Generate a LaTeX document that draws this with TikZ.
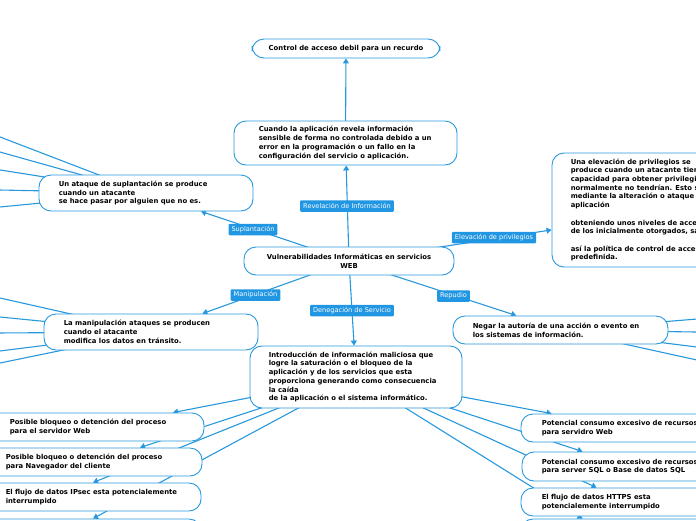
\documentclass[tikz,border=0pt]{standalone}
\usepackage{fontspec}
\setmainfont{DejaVu Sans}
\usetikzlibrary{arrows.meta,backgrounds}
\definecolor{mmblue}{RGB}{40,152,222}
\definecolor{lblblue}{RGB}{33,150,226}
\begin{document}
\begin{tikzpicture}[x=1pt,y=-1pt,
  box/.style={draw=mmblue, line width=0.9pt, fill=white, rounded corners=12pt, inner sep=0pt},
  txt/.style={font=\fontsize{6.85}{8.7}\selectfont\bfseries, align=left, inner sep=0pt, anchor=west},
  ctxt/.style={font=\fontsize{6.85}{8.7}\selectfont\bfseries, align=center},
  lbl/.style={fill=lblblue, rounded corners=1pt, text=white, font=\fontsize{6.6}{7}\selectfont, inner xsep=3pt, inner ysep=0pt, minimum height=11.5pt},
  conn/.style={draw=mmblue, line width=1.1pt, -{Triangle[width=6pt,length=5pt]}}]
\useasboundingbox (0,0) rectangle (696,520);
\clip (0,0) rectangle (696,520);
% ---- boxes ----
\node[box, ctxt, minimum width=188pt, minimum height=19pt] (ctrl) at (346,48.5) {Control de acceso debil para un recurdo};
\node[box, minimum width=223pt, minimum height=44pt] (rev) at (345.5,143) {};
\node[txt] (rev-t) at ([xshift=25pt]rev.west) {Cuando la aplicación revela información\\sensible de forma no controlada debido a un\\error en la programación o un fallo en la\\configuración del servicio o aplicación.};
\node[box, ctxt, minimum width=210pt, minimum height=28pt] (central) at (349,261) {Vulnerabilidades Informáticas en servicios\\WEB};
\node[box, minimum width=214pt, minimum height=36pt] (sup) at (146,193) {};
\node[txt] (sup-t) at ([xshift=20pt]sup.west) {Un ataque de suplantación se produce\\cuando un atacante\\se hace pasar por alguien que no es.};
\node[box, minimum width=260pt, minimum height=114pt] (elev) at (682,210) {};
\node[txt] (elev-t) at ([xshift=19pt]elev.west) {Una elevación de privilegios se\\produce cuando un atacante tiene la\\capacidad para obtener privilegios que\\normalmente no tendrían. Esto se consigue\\mediante la alteración o ataque de la\\aplicación\\[8.7pt]obteniendo unos niveles de acceso superiores\\de los inicialmente otorgados, saltándose\\[8.7pt]así la política de control de acceso\\predefinida.};
\node[box, minimum width=214pt, minimum height=36pt] (manip) at (151,332) {};
\node[txt] (manip-t) at ([xshift=20pt]manip.west) {La manipulación ataques se producen\\cuando el atacante\\modifica los datos en tránsito.};
\node[box, minimum width=215pt, minimum height=28pt] (rep) at (560.5,330) {};
\node[txt] (rep-t) at ([xshift=20pt]rep.west) {Negar la autoría de una acción o evento en\\los sistemas de información.};
\node[box, minimum width=212pt, minimum height=62pt] (den) at (356,377) {};
\node[txt] (den-t) at ([xshift=19pt]den.west) {Introducción de información maliciosa que\\logre la saturación o el bloqueo de la\\aplicación y de los servicios que esta\\proporciona generando como consecuencia\\la caída\\de la aplicación o el sistema informático.};
\node[box, minimum width=224pt, minimum height=28pt] (bl1) at (92,427) {};
\node[txt] (bl1-t) at ([xshift=30pt]bl1.west) {Posible bloqueo o detención del proceso\\para el servidor Web};
\node[box, minimum width=222pt, minimum height=28pt] (bl2) at (91,462) {};
\node[txt] (bl2-t) at ([xshift=26pt]bl2.west) {Posible bloqueo o detención del proceso\\para Navegador del cliente};
\node[box, minimum width=221pt, minimum height=28pt] (bl3) at (90.5,497) {};
\node[txt] (bl3-t) at ([xshift=26pt]bl3.west) {El flujo de datos IPsec esta potencialemente\\interrumpido};
\node[box, minimum width=221pt, minimum height=28pt] (bl4) at (90.5,533) {};
\node[box, minimum width=220pt, minimum height=28pt] (br1) at (631,428) {};
\node[txt] (br1-t) at ([xshift=21pt]br1.west) {Potencial consumo excesivo de recursos\\para servidro Web};
\node[box, minimum width=220pt, minimum height=29pt] (br2) at (632,466.5) {};
\node[txt] (br2-t) at ([xshift=20pt]br2.west) {Potencial consumo excesivo de recursos\\para server SQL o Base de datos SQL};
\node[box, minimum width=220pt, minimum height=28pt] (br3) at (631,502) {};
\node[txt] (br3-t) at ([xshift=21pt]br3.west) {El flujo de datos HTTPS esta\\potencialemente interrumpido};
\node[box, minimum width=220pt, minimum height=28pt] (br4) at (631,533) {};
% ---- off-picture ends ----
\coordinate (s1) at (-20,129.3);
\coordinate (s2) at (-20,146.4);
\coordinate (s3) at (-20,166.8);
\coordinate (s4) at (-20,189.6);
\coordinate (s5) at (-20,208.9);
\coordinate (m1) at (-20,293.5);
\coordinate (m2) at (-20,315);
\coordinate (m3) at (-20,333.1);
\coordinate (m4) at (-20,353.5);
\coordinate (m5) at (-20,367.1);
\coordinate (r1) at (716,317.5);
\coordinate (r2) at (716,332.3);
\coordinate (r3) at (716,349.4);
\coordinate (r4) at (716,364.2);
% ---- labels ----
\node[lbl] (revlbl) at (347,206) {Revelación de Información};
\node[lbl] (suplbl) at (253,229.5) {Suplantación};
\node[lbl] (maniplbl) at (255.5,295) {Manipulación};
\node[lbl] (denlbl) at (352,310.5) {Denegación de Servicio};
\node[lbl] (replbl) at (453.5,296) {Repudio};
\node[lbl] (elevlbl) at (494,237.5) {Elevación de privilegios};
% ---- connectors ----
\begin{pgfonlayer}{background}
\draw[conn] (central.center) -- (rev);
\draw[conn] (rev.center) -- (ctrl);
\draw[conn] (central.center) -- (sup);
\draw[conn] (central.center) -- (manip);
\draw[conn] (central.center) -- (den);
\draw[conn] (central.center) -- (rep);
\draw[conn] (central.center) -- (elev);
\foreach \t in {s1,s2,s3,s4,s5} \draw[conn] (sup.center) -- (\t);
\foreach \t in {m1,m2,m3,m4,m5} \draw[conn] (manip.center) -- (\t);
\foreach \t in {r1,r2,r3,r4} \draw[conn] (rep.center) -- (\t);
\draw[conn] (den.center) -- ([xshift=81pt]bl1.north);
\draw[conn] (den.center) -- ([xshift=49pt]bl2.north);
\draw[conn] (den.center) -- ([xshift=2.5pt]bl3.north);
\draw[conn] (den.center) -- ([xshift=2.5pt]bl4.north);
\draw[conn] (den.center) -- ([xshift=31pt]br1.north west);
\draw[conn] (den.center) -- ([xshift=61pt]br2.north west);
\draw[conn] (den.center) -- ([xshift=76pt]br3.north west);
\draw[conn] (den.center) -- ([xshift=62pt]br4.north west);
\end{pgfonlayer}
\end{tikzpicture}
\end{document}
